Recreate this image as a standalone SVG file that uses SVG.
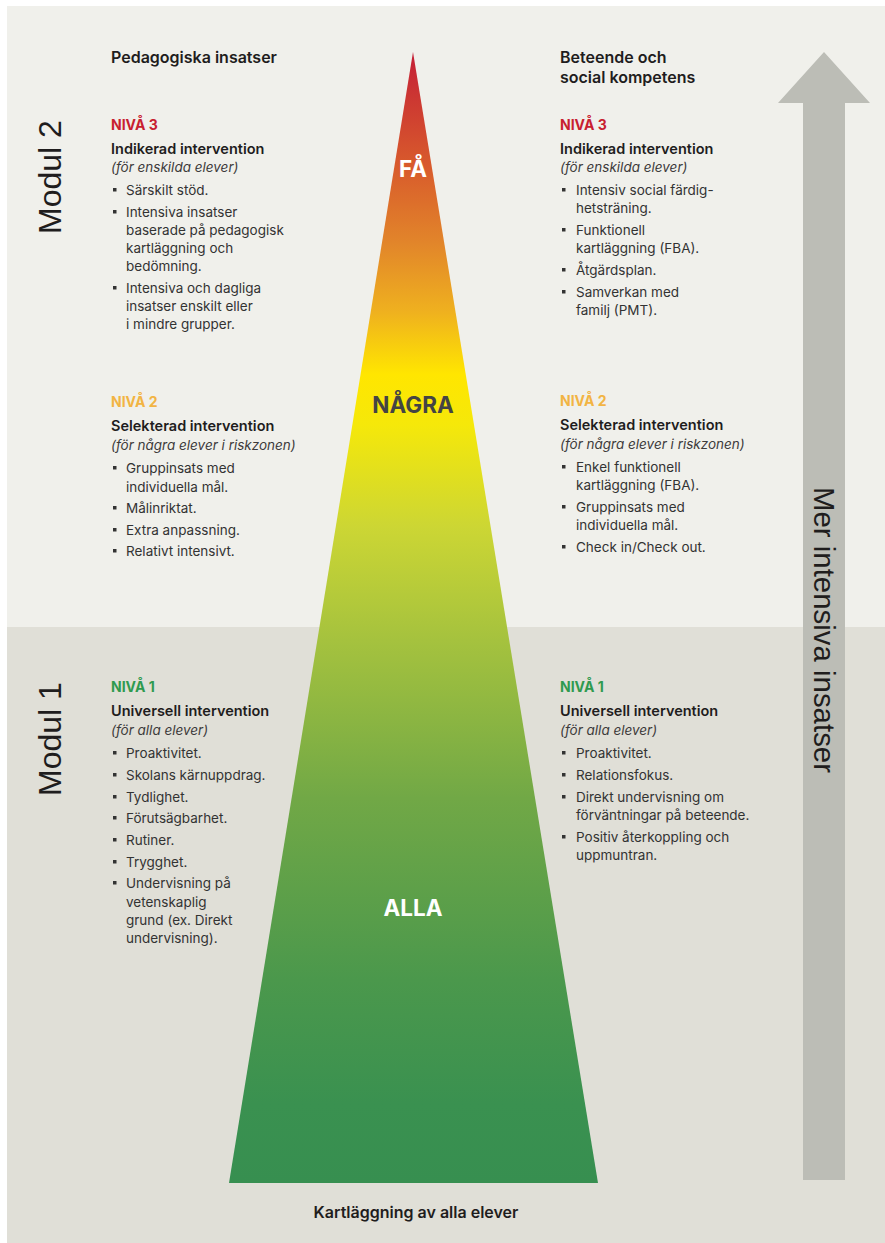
<svg xmlns="http://www.w3.org/2000/svg" width="885" height="1243" viewBox="0 0 885 1243">
<defs>
<linearGradient id="pyr" gradientUnits="userSpaceOnUse" x1="0" y1="52" x2="0" y2="1183">
<stop offset="0" stop-color="#c41f36"/>
<stop offset="0.1" stop-color="#d85a2c"/>
<stop offset="0.17" stop-color="#e2862a"/>
<stop offset="0.23" stop-color="#efb11f"/>
<stop offset="0.285" stop-color="#ffe600"/>
<stop offset="0.33" stop-color="#f5e80a"/>
<stop offset="0.42" stop-color="#ccd634"/>
<stop offset="0.52" stop-color="#a5c23e"/>
<stop offset="0.66" stop-color="#71a846"/>
<stop offset="0.82" stop-color="#4b984c"/>
<stop offset="0.93" stop-color="#3a9150"/>
<stop offset="1" stop-color="#378f50"/>
</linearGradient>
<style>
text{font-family:Inter,"Liberation Sans",Arial,sans-serif;fill:#2b2a2a}
.h{font-size:16px;font-weight:600;fill:#1f1d1d}
.lvl{font-size:14px;font-weight:700}
.l3{fill:#c8202f}.l2{fill:#f2b443}.l1{fill:#2f9a4f}
.t{font-size:14.5px;font-weight:600;fill:#1f1d1d}
.i{font-size:13.5px;font-style:italic;fill:#3d3b3b}
.b{font-size:13.5px;fill:#333}
.mod{font-family:"Liberation Sans",Arial,sans-serif;font-size:32px;fill:#1f1d1d}
.big{font-size:22.5px;font-weight:700;text-anchor:middle}
.dot{fill:#333}
</style>
</defs>
<rect x="0" y="0" width="885" height="1243" fill="#ffffff"/>
<rect x="7" y="6" width="878" height="621" fill="#f0f0eb"/>
<rect x="7" y="627" width="878" height="616" fill="#e0dfd7"/>

<g id="pyramid">
<polygon points="413,52 598,1183 229,1183" fill="url(#pyr)"/>
<text class="big" x="413" y="177" style="fill:#ffffff">FÅ</text>
<text class="big" x="413" y="413" style="fill:#444444">NÅGRA</text>
<text class="big" x="413" y="916" style="fill:#ffffff">ALLA</text>
</g>

<g id="intensity-arrow">
<polygon points="824,52 870,103 845,103 845,1180 803,1180 803,103 778,103" fill="#bcbdb6"/>
<text transform="translate(814,630) rotate(90)" text-anchor="middle" style="font-family:'Liberation Sans',Arial,sans-serif;font-size:30px;fill:#1f1d1d" textLength="286" lengthAdjust="spacingAndGlyphs">Mer intensiva insatser</text>
</g>

<g id="modul2"><text class="mod" transform="translate(61,177) rotate(-90)" text-anchor="middle">Modul 2</text></g>
<g id="modul1"><text class="mod" transform="translate(61,739) rotate(-90)" text-anchor="middle">Modul 1</text></g>

<g id="left-header"><text class="h" x="111" y="63">Pedagogiska insatser</text></g>
<g id="right-header"><text class="h" x="560" y="63">Beteende och</text><text class="h" x="560" y="83">social kompetens</text></g>

<g id="left-niva3">
<text class="lvl l3" x="111" y="130">NIVÅ 3</text>
<text class="t" x="111" y="154">Indikerad intervention</text>
<text class="i" x="111" y="172">(för enskilda elever)</text>
<rect class="dot" x="113" y="188" width="3.5" height="3.5"/><text class="b" x="126" y="195">Särskilt stöd.</text>
<rect class="dot" x="113" y="210" width="3.5" height="3.5"/><text class="b" x="126" y="217">Intensiva insatser</text>
<text class="b" x="126" y="235">baserade på pedagogisk</text>
<text class="b" x="126" y="253">kartläggning och</text>
<text class="b" x="126" y="271">bedömning.</text>
<rect class="dot" x="113" y="286" width="3.5" height="3.5"/><text class="b" x="126" y="293">Intensiva och dagliga</text>
<text class="b" x="126" y="311">insatser enskilt eller</text>
<text class="b" x="126" y="329">i mindre grupper.</text>
</g>

<g id="right-niva3">
<text class="lvl l3" x="560" y="130">NIVÅ 3</text>
<text class="t" x="560" y="154">Indikerad intervention</text>
<text class="i" x="560" y="172">(för enskilda elever)</text>
<rect class="dot" x="562" y="188" width="3.5" height="3.5"/><text class="b" x="576" y="195">Intensiv social färdig-</text>
<text class="b" x="576" y="213">hetsträning.</text>
<rect class="dot" x="562" y="228" width="3.5" height="3.5"/><text class="b" x="576" y="235">Funktionell</text>
<text class="b" x="576" y="253">kartläggning (FBA).</text>
<rect class="dot" x="562" y="268" width="3.5" height="3.5"/><text class="b" x="576" y="275">Åtgärdsplan.</text>
<rect class="dot" x="562" y="290" width="3.5" height="3.5"/><text class="b" x="576" y="297">Samverkan med</text>
<text class="b" x="576" y="315">familj (PMT).</text>
</g>

<g id="left-niva2">
<text class="lvl l2" x="111" y="407">NIVÅ 2</text>
<text class="t" x="111" y="431">Selekterad intervention</text>
<text class="i" x="111" y="450">(för några elever i riskzonen)</text>
<rect class="dot" x="113" y="466" width="3.5" height="3.5"/><text class="b" x="126" y="473">Gruppinsats med</text>
<text class="b" x="126" y="492">individuella mål.</text>
<rect class="dot" x="113" y="506" width="3.5" height="3.5"/><text class="b" x="126" y="513">Målinriktat.</text>
<rect class="dot" x="113" y="528" width="3.5" height="3.5"/><text class="b" x="126" y="535">Extra anpassning.</text>
<rect class="dot" x="113" y="549" width="3.5" height="3.5"/><text class="b" x="126" y="556">Relativt intensivt.</text>
</g>

<g id="right-niva2">
<text class="lvl l2" x="560" y="406">NIVÅ 2</text>
<text class="t" x="560" y="430">Selekterad intervention</text>
<text class="i" x="560" y="449">(för några elever i riskzonen)</text>
<rect class="dot" x="562" y="465" width="3.5" height="3.5"/><text class="b" x="576" y="472">Enkel funktionell</text>
<text class="b" x="576" y="490">kartläggning (FBA).</text>
<rect class="dot" x="562" y="505" width="3.5" height="3.5"/><text class="b" x="576" y="512">Gruppinsats med</text>
<text class="b" x="576" y="530">individuella mål.</text>
<rect class="dot" x="562" y="545" width="3.5" height="3.5"/><text class="b" x="576" y="552">Check in/Check out.</text>
</g>

<g id="left-niva1">
<text class="lvl l1" x="111" y="692">NIVÅ 1</text>
<text class="t" x="111" y="716">Universell intervention</text>
<text class="i" x="111" y="735">(för alla elever)</text>
<rect class="dot" x="113" y="751" width="3.5" height="3.5"/><text class="b" x="126" y="758">Proaktivitet.</text>
<rect class="dot" x="113" y="773" width="3.5" height="3.5"/><text class="b" x="126" y="780">Skolans kärnuppdrag.</text>
<rect class="dot" x="113" y="795" width="3.5" height="3.5"/><text class="b" x="126" y="802">Tydlighet.</text>
<rect class="dot" x="113" y="816" width="3.5" height="3.5"/><text class="b" x="126" y="823">Förutsägbarhet.</text>
<rect class="dot" x="113" y="838" width="3.5" height="3.5"/><text class="b" x="126" y="845">Rutiner.</text>
<rect class="dot" x="113" y="860" width="3.5" height="3.5"/><text class="b" x="126" y="867">Trygghet.</text>
<rect class="dot" x="113" y="881" width="3.5" height="3.5"/><text class="b" x="126" y="888">Undervisning på</text>
<text class="b" x="126" y="907">vetenskaplig</text>
<text class="b" x="126" y="925">grund (ex. Direkt</text>
<text class="b" x="126" y="943">undervisning).</text>
</g>

<g id="right-niva1">
<text class="lvl l1" x="560" y="692">NIVÅ 1</text>
<text class="t" x="560" y="716">Universell intervention</text>
<text class="i" x="560" y="735">(för alla elever)</text>
<rect class="dot" x="562" y="751" width="3.5" height="3.5"/><text class="b" x="576" y="758">Proaktivitet.</text>
<rect class="dot" x="562" y="773" width="3.5" height="3.5"/><text class="b" x="576" y="780">Relationsfokus.</text>
<rect class="dot" x="562" y="795" width="3.5" height="3.5"/><text class="b" x="576" y="802">Direkt undervisning om</text>
<text class="b" x="576" y="820">förväntningar på beteende.</text>
<rect class="dot" x="562" y="835" width="3.5" height="3.5"/><text class="b" x="576" y="842">Positiv återkoppling och</text>
<text class="b" x="576" y="860">uppmuntran.</text>
</g>

<g id="footer"><text class="h" x="416" y="1218" text-anchor="middle">Kartläggning av alla elever</text></g>
<g id="connectors"></g>
</svg>
